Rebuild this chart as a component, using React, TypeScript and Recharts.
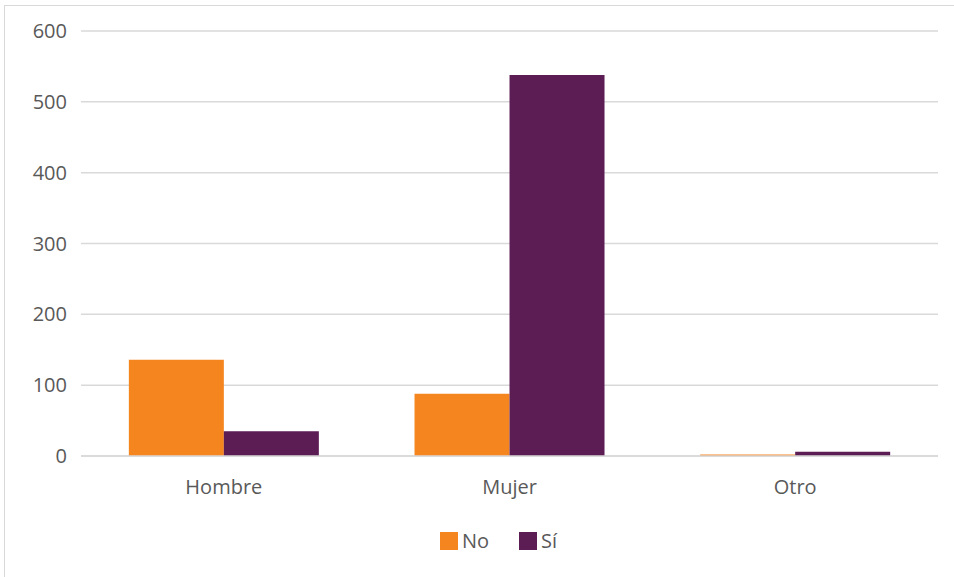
import React from "react";
import { BarChart, Bar, XAxis, YAxis, CartesianGrid } from "recharts";

const categories = ["Hombre", "Mujer", "Otro"];
const noValues = [136, 88, 1];
const siValues = [35, 538, 6];
const yTicks = [0, 100, 200, 300, 400, 500, 600];
const seriesNames = ["No", "Sí"];

const ORANGE = "#F5851F";
const PURPLE = "#5C1D55";
const TEXT = "#595959";
const GRID = "#D9D9D9";
const FONT = "'Open Sans', sans-serif";

const data = categories.map((c, i) => ({ name: c, no: noValues[i], si: siValues[i] }));

export default function App() {
  return (
    <div style={{ position: "absolute", left: 0, top: 0, width: 954, height: 577, background: "#fff", overflow: "hidden", fontFamily: FONT }}>
      <div style={{ position: "absolute", left: 4, top: 5, width: 960, height: 600, border: "1px solid #D9D9D9", boxSizing: "border-box" }} />
      <div style={{ position: "absolute", left: 0, top: 0 }}>
        <BarChart width={954} height={577} data={data} margin={{ top: 31, right: 16, left: 0, bottom: 61 }} barCategoryGap="16.75%" barGap={0}>
          <CartesianGrid vertical={false} stroke={GRID} strokeWidth={1.5} />
          <XAxis
            dataKey="name"
            axisLine={{ stroke: GRID, strokeWidth: 1.5 }}
            tickLine={false}
            tickSize={6}
            tickMargin={18}
            tick={{ fill: TEXT, fontSize: 20, fontFamily: FONT }}
            height={60}
          />
          <YAxis
            domain={[0, 600]}
            ticks={yTicks}
            width={81}
            axisLine={false}
            tickLine={false}
            tickSize={6}
            tickMargin={8}
            tick={{ fill: TEXT, fontSize: 20, fontFamily: FONT }}
          />
          <Bar dataKey="no" name={seriesNames[0]} fill={ORANGE} minPointSize={1.5} isAnimationActive={false} />
          <Bar dataKey="si" name={seriesNames[1]} fill={PURPLE} isAnimationActive={false} />
        </BarChart>
      </div>
      <div style={{ position: "absolute", left: 440, top: 532, display: "flex", alignItems: "center", fontSize: 20, color: TEXT, fontFamily: FONT, lineHeight: "18px" }}>
        <span style={{ width: 18, height: 18, background: ORANGE, display: "inline-block", marginRight: 4 }} />
        <span style={{ marginRight: 30 }}>{seriesNames[0]}</span>
        <span style={{ width: 18, height: 18, background: PURPLE, display: "inline-block", marginRight: 4 }} />
        <span>{seriesNames[1]}</span>
      </div>
    </div>
  );
}
